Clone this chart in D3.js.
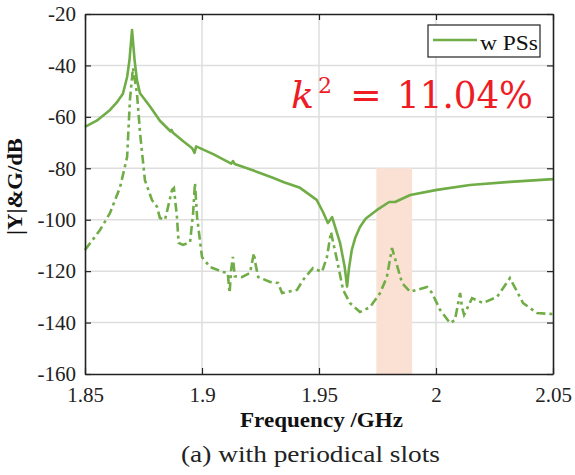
<!DOCTYPE html>
<html>
<head>
  <meta charset="utf-8">
  <style>
    body { margin: 0; background: #ffffff; }
  </style>
</head>
<body>
  <div id="chart"></div>
  <script src="https://d3js.org/d3.v7.min.js"></script>
  <script>
    // |Y| (solid) and G (dash-dot), frequency in GHz, values in dB
    var yFreq = [1.85, 1.855, 1.8607, 1.8635, 1.8662, 1.868, 1.869, 1.8701, 1.8712, 1.8722, 1.8735,
      1.8778, 1.882, 1.8865, 1.887, 1.8876, 1.892, 1.8958, 1.8968, 1.8975, 1.905, 1.9125, 1.9132,
      1.914, 1.9248, 1.93, 1.935, 1.9419, 1.949, 1.9517, 1.9538, 1.9556, 1.959, 1.961, 1.962,
      1.9628, 1.964, 1.9655, 1.9675, 1.970, 1.9748, 1.980, 1.9825, 1.989, 2.0004, 2.0145, 2.0316, 2.05];
    var yMag = [-63.9, -61.5, -57.3, -54.5, -51, -44.5, -38, -26.2, -38, -45.7, -50.8,
      -56, -61.5, -65.6, -65.1, -66.2, -69.5, -72.2, -74, -71.5, -74.6, -78.2, -77.2,
      -78.3, -81.8, -83.6, -85.4, -87.6, -92.3, -97, -101.3, -99, -109, -118.5, -126,
      -119, -111.8, -107, -102.8, -99.5, -96.2, -93.1, -93.1, -90.4, -88.4, -86.5, -85.3, -84.2];

    var gFreq = [1.85, 1.8564, 1.8607, 1.865, 1.868, 1.8692, 1.8705, 1.8722, 1.8735, 1.8756, 1.8786,
      1.8808, 1.882, 1.8842, 1.8855, 1.8872, 1.888, 1.8893, 1.890, 1.8919, 1.8949, 1.8962, 1.897,
      1.8979, 1.900, 1.9034, 1.909, 1.911, 1.9118, 1.9124, 1.9132, 1.914, 1.917, 1.9205, 1.9222,
      1.9226, 1.924, 1.9291, 1.9325, 1.9342, 1.9406, 1.9432, 1.9474, 1.9513, 1.9534, 1.9551,
      1.9577, 1.9603, 1.9632, 1.9675, 1.9718, 1.9761, 1.979, 1.9812, 1.9855, 1.9889, 1.9962,
      1.9983, 2.0017, 2.006, 2.0081, 2.0103, 2.0111, 2.012, 2.0154, 2.0201, 2.0261, 2.0316,
      2.0372, 2.0432, 2.05];
    var gMag = [-111.8, -104, -97.4, -87.3, -75.6, -53.4, -41, -50.8, -66, -84.6, -92.3,
      -95, -99.3, -100, -95, -88.4, -87.7, -99, -109, -109.8, -108.7, -97.4, -85.7,
      -99, -114.5, -118.4, -120.3, -120.7, -128.5, -120, -114.5, -122, -122.3, -120.7, -113,
      -116, -122.3, -124.2, -124.6, -128.5, -127.3, -123.4, -118.8, -120.3, -114.5, -104.8,
      -115.7, -127.3, -132.4, -135.9, -134, -128.5, -122.3, -111, -124.6, -128, -126.2,
      -128.5, -135, -140.2, -139, -128.5, -134, -137, -130.5, -132.4, -130, -122.7,
      -132.4, -136.3, -136.7];

    var xTicks = [1.85, 1.9, 1.95, 2, 2.05];
    var yTicks = [-160, -140, -120, -100, -80, -60, -40, -20];
    var band = [1.9745, 1.9898];
    var bandTop = -80;

    var width = 575, height = 475;
    var margin = { left: 85, right: 22, top: 14, bottom: 101 };
    var serif = "'Liberation Serif', 'Times New Roman', serif";

    var svg = d3.select("#chart").append("svg")
      .attr("width", width)
      .attr("height", height)
      .style("font-family", serif);

    var x = d3.scaleLinear().domain([1.85, 2.05]).range([margin.left, width - margin.right]);
    var y = d3.scaleLinear().domain([-160, -20]).range([height - margin.bottom, margin.top]);

    // grid
    svg.append("g").selectAll("line").data(xTicks.slice(1, -1)).enter().append("line")
      .attr("x1", function (d) { return x(d); }).attr("x2", function (d) { return x(d); })
      .attr("y1", y(-160)).attr("y2", y(-20))
      .attr("stroke", "#dedede").attr("stroke-width", 1.5);
    svg.append("g").selectAll("line").data(yTicks.slice(1, -1)).enter().append("line")
      .attr("x1", x(1.85)).attr("x2", x(2.05))
      .attr("y1", function (d) { return y(d); }).attr("y2", function (d) { return y(d); })
      .attr("stroke", "#dedede").attr("stroke-width", 1.5);

    // shaded band
    svg.append("rect")
      .attr("x", x(band[0])).attr("width", x(band[1]) - x(band[0]))
      .attr("y", y(bandTop)).attr("height", y(-160) - y(bandTop))
      .attr("fill", "#fbe1d4");

    var line = d3.line()
      .x(function (d) { return x(d[0]); })
      .y(function (d) { return y(d[1]); });

    var gData = d3.zip(gFreq, gMag);
    var yData = d3.zip(yFreq, yMag);

    svg.append("path").datum(gData)
      .attr("d", line)
      .attr("fill", "none").attr("stroke", "#70ad47").attr("stroke-width", 2.6)
      .attr("stroke-dasharray", "9,4,3,4");

    svg.append("path").datum(yData)
      .attr("d", line)
      .attr("fill", "none").attr("stroke", "#70ad47").attr("stroke-width", 2.6)
      .attr("stroke-linejoin", "round");

    // axes (plain hyphen for negatives, like MATLAB)
    var ax = svg.append("g").attr("transform", "translate(0," + y(-160) + ")")
      .call(d3.axisBottom(x).tickValues(xTicks).tickSizeInner(-6).tickSizeOuter(0)
        .tickPadding(13).tickFormat(function (d) { return String(+d.toFixed(2)); }));
    var axTop = svg.append("g").attr("transform", "translate(0," + y(-20) + ")")
      .call(d3.axisTop(x).tickValues(xTicks).tickSizeInner(-6).tickSizeOuter(0).tickFormat(""));
    var ay = svg.append("g").attr("transform", "translate(" + x(1.85) + ",0)")
      .call(d3.axisLeft(y).tickValues(yTicks).tickSizeInner(-6).tickSizeOuter(0).tickPadding(9)
        .tickFormat(function (d) { return String(d); }));
    var ayR = svg.append("g").attr("transform", "translate(" + x(2.05) + ",0)")
      .call(d3.axisRight(y).tickValues(yTicks).tickSizeInner(-6).tickSizeOuter(0).tickFormat(""));

    [ax, axTop, ay, ayR].forEach(function (g) {
      g.attr("font-family", null).attr("font-size", null);
      g.select(".domain").attr("stroke", "#222").attr("stroke-width", 1.6);
      g.selectAll(".tick line").attr("stroke", "#222").attr("stroke-width", 1.2);
      g.selectAll(".tick text").attr("fill", "#222")
        .style("font-family", serif).style("font-size", "21px");
    });

    // labels
    svg.append("text")
      .attr("x", 240).attr("y", 427)
      .attr("textLength", 163).attr("lengthAdjust", "spacingAndGlyphs")
      .style("font-size", "20px").style("font-weight", "bold").attr("fill", "#111")
      .text("Frequency /GHz");

    svg.append("text")
      .attr("transform", "translate(22,235) rotate(-90)")
      .attr("textLength", 97).attr("lengthAdjust", "spacingAndGlyphs")
      .style("font-size", "20px").style("font-weight", "bold").attr("fill", "#111")
      .text("|Y|&G/dB");

    svg.append("text")
      .attr("x", 181).attr("y", 462)
      .attr("textLength", 259).attr("lengthAdjust", "spacingAndGlyphs")
      .style("font-size", "24px").attr("fill", "#222")
      .text("(a) with periodical slots");

    // k^2 annotation
    var k = svg.append("text")
      .attr("y", 108)
      .attr("fill", "#ee1c25")
      .style("font-family", "'DejaVu Serif', serif")
      .style("font-size", "38px");
    k.append("tspan").attr("x", 291).style("font-style", "italic").text("k");
    k.append("tspan").attr("x", 318).attr("dy", -15).style("font-size", "22px").text("2");
    k.append("tspan").attr("x", 350).attr("dy", 15).text("=");
    k.append("tspan").attr("x", 397).attr("textLength", 136).attr("lengthAdjust", "spacingAndGlyphs")
      .text("11.04%");

    // legend
    var lg = svg.append("g");
    lg.append("rect")
      .attr("x", 428).attr("y", 25).attr("width", 112).attr("height", 32)
      .attr("fill", "#fff").attr("stroke", "#222").attr("stroke-width", 1.2);
    lg.append("line")
      .attr("x1", 433).attr("x2", 477).attr("y1", 40).attr("y2", 40)
      .attr("stroke", "#70ad47").attr("stroke-width", 2.6);
    lg.append("text")
      .attr("x", 480).attr("y", 50)
      .attr("textLength", 58).attr("lengthAdjust", "spacingAndGlyphs")
      .style("font-size", "22px").attr("fill", "#111")
      .text("w PSs");
  </script>
</body>
</html>
